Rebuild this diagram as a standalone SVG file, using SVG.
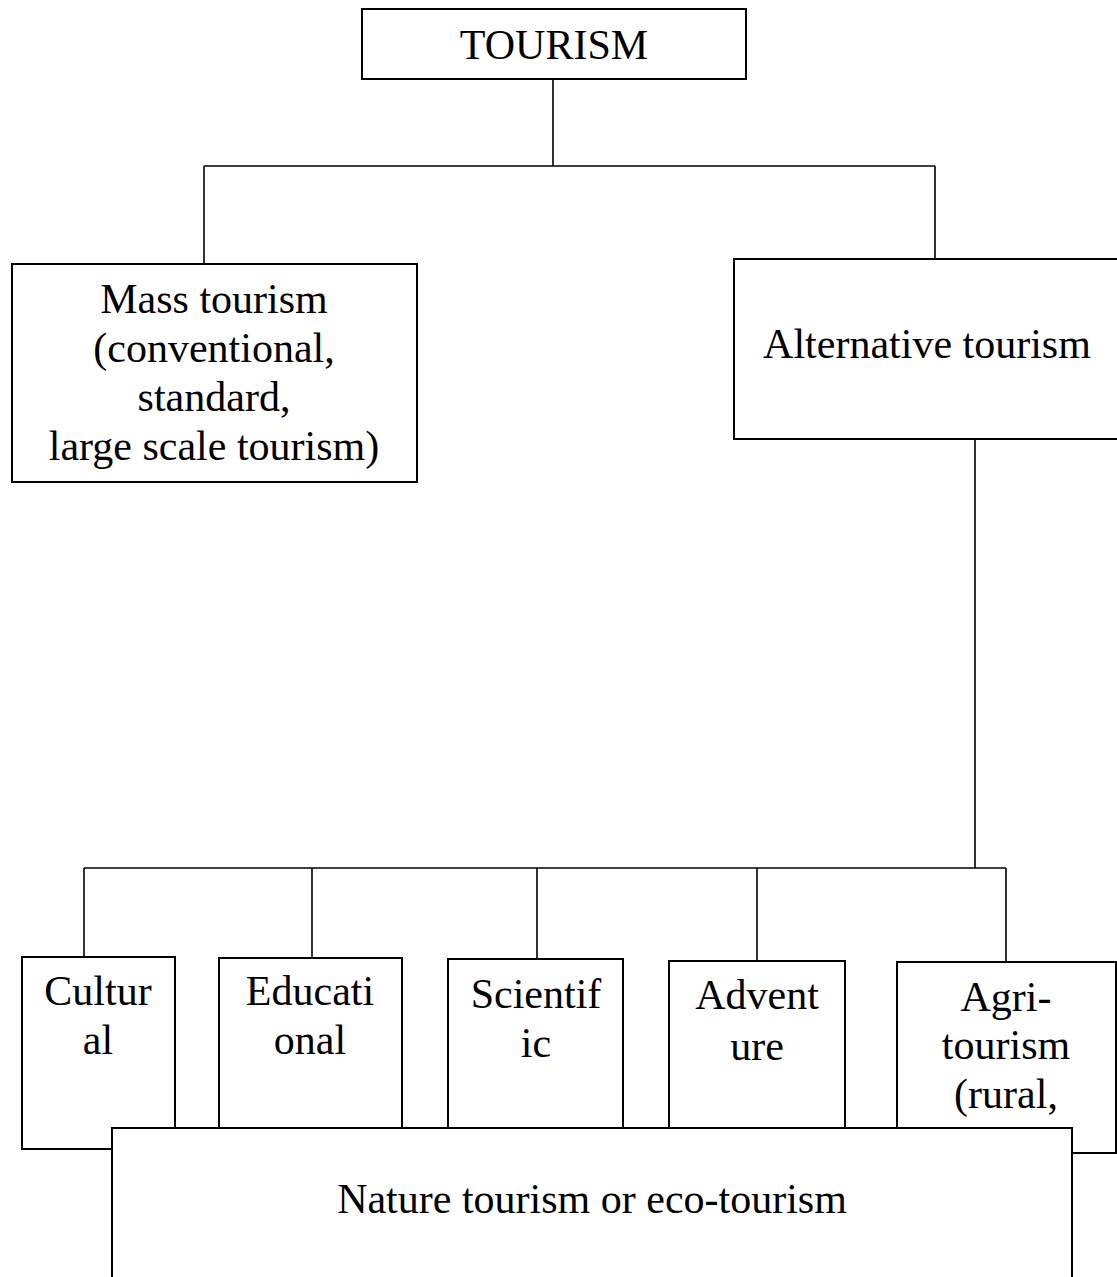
<svg xmlns="http://www.w3.org/2000/svg" width="1117" height="1277" viewBox="0 0 1117 1277">
<style>
.box{fill:#fff;stroke:#000;stroke-width:2}
.ln{fill:none;stroke:#000;stroke-width:1.6}
text{font-family:"Liberation Serif","Times New Roman",serif;font-size:42px;fill:#000;text-anchor:middle}
</style>
<rect width="1117" height="1277" fill="#fff"/>
<g id="connectors">
<path class="ln" d="M553 79V166M204 166H935M204 166V264M935 166V259"/>
<path class="ln" d="M975 439V868M84 868H1006M84 868V957M312 868V958M537 868V959M757 868V961M1006 868V962"/>
</g>
<g id="tourism"><rect class="box" x="362" y="9" width="384" height="70"/><text x="554" y="59">TOURISM</text></g>
<g id="mass"><rect class="box" x="12" y="264" width="405" height="218"/>
<text x="214" y="313">Mass tourism</text><text x="214" y="362">(conventional,</text><text x="214" y="411">standard,</text><text x="214" y="460">large scale tourism)</text></g>
<g id="alternative"><rect class="box" x="734" y="259" width="390" height="180"/><text x="927" y="358">Alternative tourism</text></g>
<g id="cultural"><rect class="box" x="22" y="957" width="153" height="192"/><text x="98" y="1005">Cultur</text><text x="98" y="1054">al</text></g>
<g id="educational"><rect class="box" x="219" y="958" width="183" height="190"/><text x="310" y="1005">Educati</text><text x="310" y="1054">onal</text></g>
<g id="scientific"><rect class="box" x="448" y="959" width="175" height="190"/><text x="536" y="1008">Scientif</text><text x="536" y="1057">ic</text></g>
<g id="adventure"><rect class="box" x="669" y="961" width="176" height="190"/><text x="757" y="1009">Advent</text><text x="757" y="1060">ure</text></g>
<g id="agri"><rect class="box" x="897" y="962" width="219" height="191"/><text x="1006" y="1011">Agri-</text><text x="1006" y="1059">tourism</text><text x="1006" y="1108">(rural,</text></g>
<g id="nature"><rect class="box" x="112" y="1128" width="960" height="200"/><text x="592" y="1213">Nature tourism or eco-tourism</text></g>
</svg>
